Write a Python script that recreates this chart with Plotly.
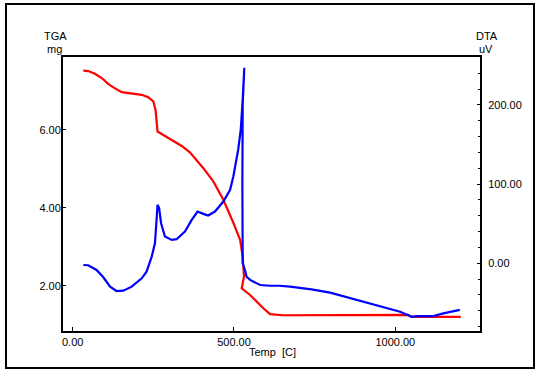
import plotly.graph_objects as go

# TGA (mg) vs temperature
tga_temp = [33, 48, 69, 90, 110, 126, 152, 183, 214, 234, 250, 257, 260, 263, 281, 307, 338, 364,
            389, 405, 436, 467, 498, 519, 527, 531, 524, 550, 591, 612, 650, 800, 1000, 1040, 1050,
            1203]
tga_mass = [7.52, 7.51, 7.44, 7.33, 7.18, 7.09, 6.97, 6.93, 6.90, 6.84, 6.73, 6.51, 6.17, 5.96, 5.87,
            5.74, 5.59, 5.42, 5.19, 5.02, 4.68, 4.21, 3.62, 3.18, 2.75, 2.24, 1.94, 1.77, 1.43, 1.28,
            1.25, 1.26, 1.26, 1.26, 1.21, 1.21]

# DTA (uV) vs temperature
dta_temp = [33, 48, 74, 95, 116, 136, 157, 183, 214, 229, 245, 255, 260, 263, 268, 274, 286, 307,
            322, 348, 369, 387, 405, 420, 441, 467, 488, 498, 513, 521, 527, 532, 527, 526, 526,
            527, 534, 539, 550, 581, 612, 640, 674, 740, 798, 880, 953, 1015, 1051, 1066, 1118, 1149,
            1200]
dta_val = [-2.2, -2.5, -8.5, -17.7, -29.6, -35.1, -34.7, -29.6, -19, -10.6, 8.4, 25.3, 54.8, 73.8,
           69.6, 50.6, 33.7, 29.5, 30.4, 40, 54.8, 65.3, 62.4, 60.3, 65.3, 78, 92.8, 109.6, 143.4,
           168.7, 206.7, 247, 200, 100, 10, 0, -8.5, -17, -21, -27.5, -28.4, -28.4, -29.6, -33,
           -37.2, -46.5, -54, -61.3, -67.6, -66.7, -66.7, -63.3, -59]

x_ticks = [0, 500, 1000]
x_ticktext = ["0.00", "500.00", "1000.00"]
y_ticks = [2, 4, 6]
y_ticktext = ["2.00", "4.00", "6.00"]
y2_ticks = [0, 100, 200]
y2_ticktext = ["0.00", "100.00", "200.00"]

W, H = 539, 375
L, R, T, B = 63, 59, 57, 44
pw, ph = W - L - R, H - T - B


def px(x):
    return (x - L) / pw


def py(y):
    return (H - B - y) / ph


fig = go.Figure()
fig.add_trace(go.Scatter(x=tga_temp, y=tga_mass, mode="lines",
                         line=dict(color="#FF0000", width=2.2), yaxis="y"))
fig.add_trace(go.Scatter(x=dta_temp, y=dta_val, mode="lines",
                         line=dict(color="#0000FF", width=2.2), yaxis="y2"))

font = dict(family="Liberation Sans, Arial, sans-serif", size=11, color="#000000")

fig.update_layout(
    width=W, height=H,
    margin=dict(l=L, r=R, t=T, b=B),
    paper_bgcolor="white", plot_bgcolor="white",
    showlegend=False,
    font=font,
    xaxis=dict(range=[-30, 1262.6], tickvals=x_ticks, ticktext=x_ticktext,
               ticks="inside", ticklen=4, tickcolor="black", showgrid=False, zeroline=False,
               showline=True, linecolor="black", linewidth=2, mirror=True,
               tickfont=font),
    yaxis=dict(range=[0.846, 7.87], tickvals=y_ticks, ticktext=y_ticktext,
               ticks="inside", ticklen=3, tickcolor="black", showgrid=False, zeroline=False,
               showline=True, linecolor="black", linewidth=2, tickfont=font,
               ticklabelstandoff=-2),
    yaxis2=dict(range=[-85.6, 260.6], tickvals=y2_ticks, ticktext=y2_ticktext,
                overlaying="y", side="right",
                ticks="inside", ticklen=3, tickcolor="black", showgrid=False, zeroline=False,
                showline=True, linecolor="black", linewidth=2, tickfont=font,
                ticklabelstandoff=4,
                minor=dict(tickmode="linear", tick0=0, dtick=20, ticks="inside", ticklen=2,
                           tickcolor="black")),
    shapes=[dict(type="rect", xref="paper", yref="paper",
                 x0=px(6), x1=px(534), y0=py(368), y1=py(4),
                 line=dict(color="black", width=2), layer="below")],
    annotations=[
        dict(text="TGA", x=px(55), y=py(36), xref="paper", yref="paper", showarrow=False,
             font=font, xanchor="center", yanchor="middle"),
        dict(text="mg", x=px(54), y=py(49.5), xref="paper", yref="paper", showarrow=False,
             font=font, xanchor="center", yanchor="middle"),
        dict(text="DTA", x=px(487), y=py(36), xref="paper", yref="paper", showarrow=False,
             font=font, xanchor="center", yanchor="middle"),
        dict(text="uV", x=px(486), y=py(49.5), xref="paper", yref="paper", showarrow=False,
             font=font, xanchor="center", yanchor="middle"),
        dict(text="Temp\u00a0\u00a0[C]", x=px(272), y=py(352), xref="paper", yref="paper",
             showarrow=False, font=font, xanchor="center", yanchor="middle"),
    ],
)

fig.write_html("out.html", config={"displayModeBar": False},
               post_script="document.body.style.margin='0';document.body.style.padding='0';")
